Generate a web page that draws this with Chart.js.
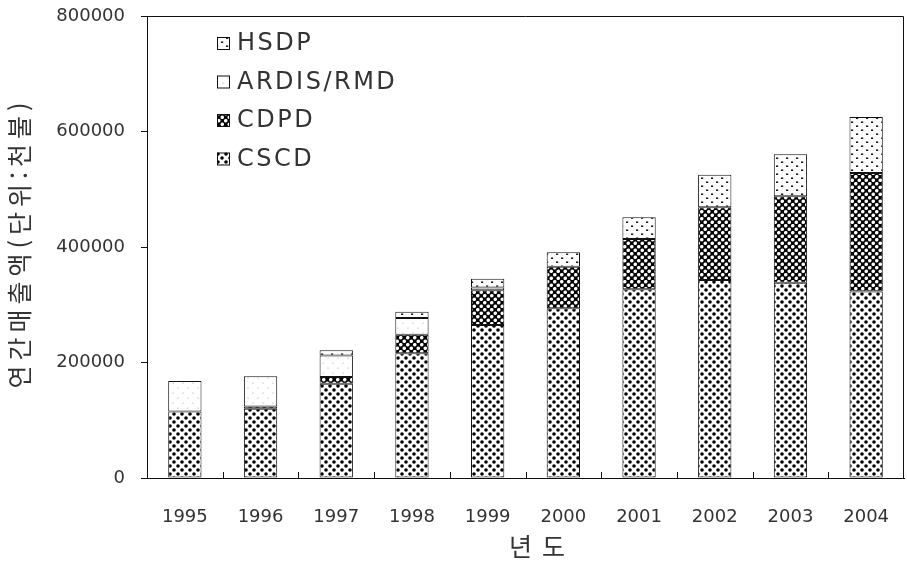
<!DOCTYPE html>
<html lang="ko">
<head>
<meta charset="utf-8">
<title>연간매출액</title>
<script src="https://cdn.jsdelivr.net/npm/chart.js@4.4.1/dist/chart.umd.min.js"></script>
<style>
  html, body { margin: 0; padding: 0; background: #fff; }
  #wrap { width: 907px; height: 565px; }
</style>
</head>
<body>
<div id="wrap"><canvas id="c" width="907" height="565"></canvas></div>
<script>
// 연도별 무선 데이터 서비스 매출액 (단위: 천불)
const years = ['1995', '1996', '1997', '1998', '1999', '2000', '2001', '2002', '2003', '2004'];
const cscd  = [115000, 120000, 163000, 216000, 265000, 294000, 327000, 343000, 338000, 323000];
const cdpd  = [0, 4000, 12000, 32000, 60000, 72000, 87000, 126000, 150000, 205000];
const ardis = [53000, 52000, 37000, 29000, 5000, 0, 0, 0, 0, 0];
const hsdp  = [0, 0, 9000, 11000, 15000, 25000, 37500, 56000, 72600, 97000];
const yMin = 0, yMax = 800000, yStep = 200000;
const xTitle = '년도';
const yTitle = '연간매출액(단위:천불)';

const FONT = "'DejaVu Sans', 'Noto Sans CJK KR', sans-serif";
const KFONT = "'Noto Sans CJK KR', 'DejaVu Sans', sans-serif";
const INK = '#333';

// 해칭용 반복 패턴 생성
function makePattern(w, h, bg, draw) {
  const cv = document.createElement('canvas');
  cv.width = w; cv.height = h;
  const g = cv.getContext('2d');
  g.fillStyle = bg; g.fillRect(0, 0, w, h);
  draw(g);
  return document.createElement('canvas').getContext('2d').createPattern(cv, 'repeat');
}
function dot(g, x, y, r, col) {
  g.fillStyle = col; g.beginPath(); g.arc(x, y, r, 0, Math.PI * 2); g.fill();
}
const patCSCD = makePattern(8, 8, '#fff', g => { dot(g, 2, 2, 1.8, '#000'); dot(g, 6, 6, 1.8, '#000'); });
const patCDPD = makePattern(7, 7, '#000', g => { dot(g, 1.75, 1.75, 1.8, '#fff'); dot(g, 5.25, 5.25, 1.8, '#fff'); });
const patARDIS = makePattern(10, 10, '#fff', g => { dot(g, 3, 3, 0.6, '#999'); dot(g, 8, 8, 0.6, '#999'); });
const patHSDP = makePattern(10, 8, '#fff', g => {
  g.fillStyle = '#000'; g.fillRect(1, 1.5, 2.2, 1.4); g.fillRect(6, 5.5, 2.2, 1.4);
});

const legendItems = [
  { label: 'HSDP', fill: patHSDP },
  { label: 'ARDIS/RMD', fill: patARDIS },
  { label: 'CDPD', fill: patCDPD },
  { label: 'CSCD', fill: patCSCD }
];

function spaced(ctx, px) { if ('letterSpacing' in ctx) ctx.letterSpacing = px + 'px'; }

// 플롯 영역 위/오른쪽 테두리, x축 구분 눈금, 범례, 축 제목
const decor = {
  id: 'decor',
  afterDatasetsDraw(chart) {
    const { ctx, chartArea: a, scales: { x } } = chart;
    ctx.save();
    ctx.strokeStyle = '#111';
    ctx.lineWidth = 1;
    ctx.beginPath();
    ctx.moveTo(a.left, a.top + 0.5); ctx.lineTo(a.right - 0.5, a.top + 0.5);
    ctx.lineTo(a.right - 0.5, a.bottom);
    ctx.stroke();
    // 범주 사이 짧은 눈금
    ctx.beginPath();
    for (let i = 0; i < years.length - 1; i++) {
      const px = Math.round((x.getPixelForValue(i) + x.getPixelForValue(i + 1)) / 2) + 0.5;
      ctx.moveTo(px, a.bottom); ctx.lineTo(px, a.bottom - 6);
    }
    ctx.stroke();
    // 범례
    const lx = 217, ly0 = 43, gap = 38.5, box = 12;
    ctx.font = '24px ' + FONT;
    ctx.textBaseline = 'middle';
    ctx.textAlign = 'left';
    legendItems.forEach((it, i) => {
      const cy = ly0 + i * gap;
      ctx.fillStyle = it.fill;
      ctx.fillRect(lx, cy - box / 2, box, box);
      ctx.strokeStyle = '#111';
      ctx.strokeRect(lx + 0.5, cy - box / 2 + 0.5, box, box);
      ctx.fillStyle = INK;
      spaced(ctx, 2.5);
      ctx.fillText(it.label, lx + 20, cy + 1);
      spaced(ctx, 0);
    });
    // 축 제목
    ctx.fillStyle = INK;
    ctx.font = '25px ' + KFONT;
    ctx.textAlign = 'center';
    ctx.textBaseline = 'middle';
    spaced(ctx, 10);
    ctx.fillText(xTitle, 542, 546);
    ctx.save();
    ctx.translate(19, 245);
    ctx.rotate(-Math.PI / 2);
    spaced(ctx, 5);
    ctx.fillText(yTitle, 2, 0);
    ctx.restore();
    spaced(ctx, 0);
    ctx.restore();
  }
};

function ds(label, data, fill) {
  return {
    label, data,
    backgroundColor: fill,
    borderColor: '#111',
    borderWidth: 1,
    borderSkipped: false,
    barPercentage: 0.44,
    categoryPercentage: 1.0
  };
}

new Chart(document.getElementById('c'), {
  type: 'bar',
  data: {
    labels: years,
    datasets: [
      ds('CSCD', cscd, patCSCD),
      ds('CDPD', cdpd, patCDPD),
      ds('ARDIS/RMD', ardis, patARDIS),
      ds('HSDP', hsdp, patHSDP)
    ]
  },
  options: {
    responsive: false,
    animation: false,
    devicePixelRatio: 1,
    layout: { padding: { top: 16, right: 3, left: 0, bottom: 0 } },
    plugins: { legend: { display: false }, tooltip: { enabled: false } },
    scales: {
      x: {
        stacked: true,
        grid: { display: false, drawTicks: false },
        border: { display: true, color: '#111', width: 1 },
        ticks: { color: INK, font: { family: FONT, size: 18 }, padding: 29 },
        afterFit(s) { s.height = 87; s.paddingLeft = 0; s.paddingRight = 0; }
      },
      y: {
        stacked: true,
        min: yMin, max: yMax,
        grid: { drawOnChartArea: false, drawTicks: true, tickLength: 6, color: '#111' },
        border: { display: true, color: '#111', width: 1 },
        ticks: {
          stepSize: yStep, color: INK, padding: 16,
          font: { family: FONT, size: 18 },
          callback: v => String(v)
        },
        afterFit(s) { s.width = 147; s.paddingTop = 0; s.paddingBottom = 0; }
      }
    }
  },
  plugins: [decor]
});
</script>
</body>
</html>
